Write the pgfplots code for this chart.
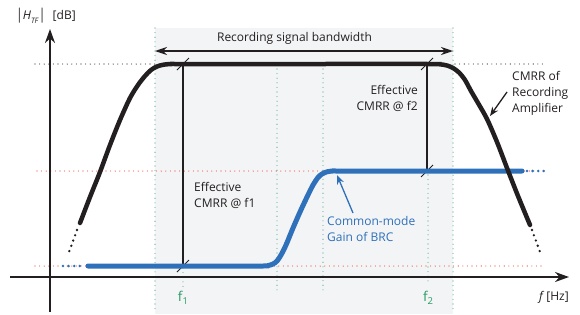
\documentclass[border=0pt]{standalone}
\usepackage{fontspec}
\setmainfont{Open Sans}
\usepackage{pgfplots}
\pgfplotsset{compat=1.18}
\usetikzlibrary{arrows.meta}
\definecolor{gtext}{RGB}{40,155,100}
\definecolor{gdot}{RGB}{60,165,125}
\definecolor{cblue}{RGB}{46,112,185}
\definecolor{cred}{RGB}{235,50,50}
\definecolor{shade}{RGB}{243,244,246}
\definecolor{ink}{RGB}{35,31,32}
\begin{document}
\begin{tikzpicture}[
  refdot/.style={line width=1.1pt, line cap=round, dash pattern=on 0pt off 4.6pt},
  bigdot/.style={line width=2.6pt, line cap=round, dash pattern=on 0pt off 5.6pt},
  txt/.style={font=\fontsize{12}{16}\selectfont, text=ink, inner sep=0pt},
]
\begin{axis}[
  width=580pt, height=314pt, scale only axis,
  xmin=0, xmax=580, ymin=0, ymax=314, y dir=reverse,
  hide axis, clip=false,
]
\path (rel axis cs:0,0) rectangle (rel axis cs:1,1);
% shaded band
\addplot[draw=none, fill=shade] coordinates {(155,28) (453,28) (453,314) (155,314)} -- cycle;
% green dotted verticals
\addplot[refdot, gdot] coordinates {(155,28) (155,310)};
\addplot[refdot, gdot] coordinates {(453,28) (453,310)};
\addplot[refdot, gdot] coordinates {(277,69) (277,293)};
\addplot[refdot, gdot] coordinates {(323,69) (323,293)};
\addplot[refdot, gdot] coordinates {(183,268) (183,288)};
\addplot[refdot, gdot] coordinates {(428,175) (428,284)};
% horizontal reference dotted lines
\addplot[refdot, ink] coordinates {(35,64) (155,64)};
\addplot[refdot, ink] coordinates {(455,64) (545,64)};
\addplot[refdot, cred] coordinates {(37,171) (545,171)};
\addplot[refdot, cred] coordinates {(35,266) (545,266)};
% axes
\addplot[line width=2pt, ink, -{Stealth[length=14pt,width=10pt]}] coordinates {(50,312) (50,29)};
\addplot[line width=2pt, ink, -{Stealth[length=14pt,width=10pt]}] coordinates {(10,277) (569,277)};
% bandwidth arrow
\addplot[line width=1.4pt, ink, {Stealth[length=12pt,width=8pt]}-{Stealth[length=12pt,width=8pt]}] coordinates {(155,51) (453,51)};
% thin CMRR marker lines
\addplot[line width=1.2pt, ink] coordinates {(183,64) (183,266)};
\addplot[line width=1.2pt, ink] coordinates {(427,64) (427,171)};
\addplot[line width=0.9pt, ink] coordinates {(177,70) (189,58)};
\addplot[line width=0.9pt, ink] coordinates {(177,272) (189,260)};
\addplot[line width=0.9pt, ink] coordinates {(421,70) (433,58)};
\addplot[line width=0.9pt, ink] coordinates {(421,177) (433,165)};
% blue curve
\addplot[bigdot, cblue, line width=2.8pt] coordinates {(63,266) (84,266)};
\addplot[bigdot, cblue, line width=2.8pt] coordinates {(527,171) (546,171)};
\addplot[cblue, line width=5pt, line cap=round, smooth, tension=0.5] coordinates {
 (88,266) (180,266) (262,266) (268,265.6) (273,264) (277,261) (281,255) (286,245) (293,228) (300,212) (307,197) (313,185) (318,177.5) (322,174) (327,171.8) (333,171) (340,171) (430,171) (522,171)};
% black curve
\addplot[bigdot, ink] coordinates {(77,230) (69,252)};
\addplot[bigdot, ink] coordinates {(532,230) (540,252)};
\addplot[ink, line width=4.5pt, line cap=round, smooth, tension=0.5] coordinates {
 (80,223) (90,197) (100,172) (110,145) (120,120) (130,98) (138,85) (145,76) (151,70) (157,66.5) (164,64.6) (172,64) (180,64) (300,64) (430,64) (440,64.3) (447,65.5) (453,68) (459,72.5) (465,80) (471,91) (478,103) (487,119) (497,142) (507,168) (518,196) (530,225)};
% annotation arrows
\addplot[line width=1.3pt, ink, -{Stealth[length=9pt,width=7pt]}] coordinates {(507,92) (490,116)};
\addplot[line width=1.3pt, cblue, -{Stealth[length=9pt,width=7pt]}] coordinates {(353,213) (337,175)};
% texts
\node[txt, anchor=west] at (axis cs:16,16) {\scalebox{1}[1.25]{|}\textit{H}\raisebox{-0.5ex}{\fontsize{7.5}{8}\selectfont\textit{TF}}\scalebox{1}[1.25]{|}\hspace{0.6em}[dB]};
\node[txt] at (axis cs:294.5,38) {Recording signal bandwidth};
\node[txt, anchor=east, align=right] at (axis cs:418,98) {Effective\\CMRR @ f2};
\node[txt, anchor=west, align=left] at (axis cs:512,93) {CMRR of\\Recording\\Amplifier};
\node[txt, anchor=west, align=left] at (axis cs:194,195) {Effective\\CMRR @ f1};
\node[txt, anchor=west, align=left, text=cblue] at (axis cs:327,229) {Common-mode\\Gain of BRC};
\node[txt, anchor=east] at (axis cs:569,297) {\textit{f}\,[Hz]};
\node[txt, text=gtext, font=\fontsize{13.5}{16}\selectfont] at (axis cs:183,298) {f\raisebox{-0.45ex}{\fontsize{9.5}{10}\selectfont 1}};
\node[txt, text=gtext, font=\fontsize{13.5}{16}\selectfont] at (axis cs:428,298) {f\raisebox{-0.45ex}{\fontsize{9.5}{10}\selectfont 2}};
\end{axis}
\end{tikzpicture}
\end{document}
